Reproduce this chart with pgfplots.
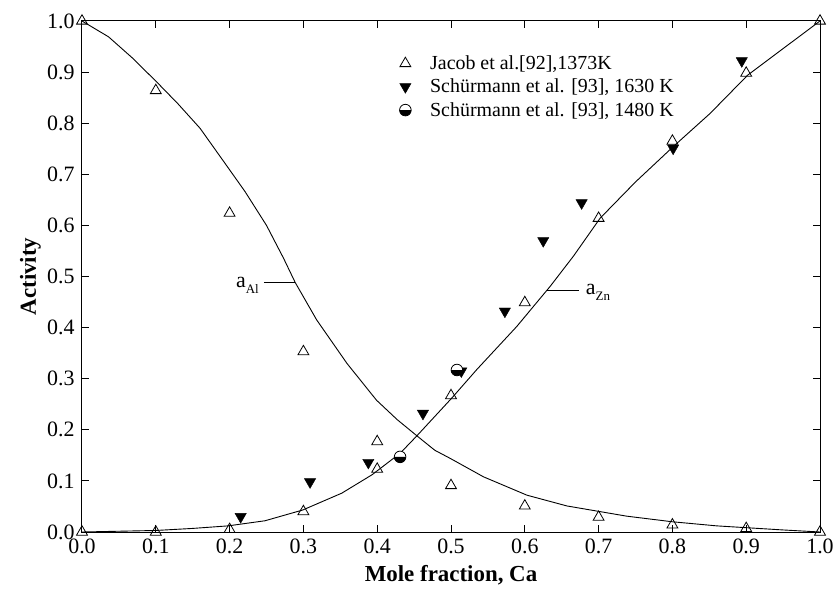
\documentclass[border=0pt]{standalone}
\usepackage{fontspec}
\setmainfont{Liberation Serif}
\usepackage{pgfplots}
\pgfplotsset{compat=1.18}
\begin{document}
\begin{tikzpicture}
\begin{axis}[
  scale only axis, width=738bp, height=511bp,
  xmin=0, xmax=1, ymin=0, ymax=1,
  xtick={0,0.1,0.2,0.3,0.4,0.5,0.6,0.7,0.8,0.9,1.0},
  ytick={0,0.1,0.2,0.3,0.4,0.5,0.6,0.7,0.8,0.9,1.0},
  xtick pos=both, ytick pos=both, xticklabel pos=lower, yticklabel pos=left,
  tick align=inside, major tick length=7bp,
  axis line style={line width=1bp},
  every tick/.style={black, line width=1bp},
  /pgf/number format/fixed, /pgf/number format/fixed zerofill,
  /pgf/number format/precision=1, /pgf/number format/assume math mode=true,
  tick label style={font=\fontsize{22}{26}\selectfont},
  xticklabel style={yshift=-3bp},
  yticklabel style={xshift=-4bp},
  label style={font=\fontsize{23}{27}\selectfont\bfseries},
  xlabel={Mole fraction, Ca}, ylabel={Activity},
  xlabel style={at={(axis description cs:0.5,-0.084)}, anchor=center},
  ylabel style={at={(axis description cs:-0.07,0.5)}, anchor=center},
  legend style={at={(axis description cs:0.426,0.94)}, anchor=north west,
    draw=none, fill=none, font=\fontsize{20}{24}\selectfont,
    column sep=17bp, row sep=4bp},
  legend cell align=left,
]
\coordinate (sw) at (rel axis cs:0,0);
\coordinate (ne) at (rel axis cs:1,1);
% a_Al curve
\addplot[black, line width=0.9bp, forget plot] coordinates {
(0,1.0)(0.036,0.969)(0.068,0.928)(0.101,0.881)(0.130,0.838)(0.160,0.790)(0.194,0.721)(0.221,0.666)
(0.250,0.600)(0.273,0.536)(0.289,0.488)(0.318,0.415)(0.359,0.330)(0.399,0.258)(0.427,0.220)(0.454,0.188)
(0.478,0.160)(0.499,0.144)(0.544,0.108)(0.603,0.072)(0.657,0.051)(0.738,0.031)(0.800,0.020)(0.860,0.012)
(0.950,0.004)(1.0,0.0)};
% a_Zn curve
\addplot[black, line width=0.9bp, forget plot] coordinates {
(0,0)(0.1,0.003)(0.150,0.007)(0.198,0.012)(0.248,0.022)(0.299,0.043)(0.352,0.076)(0.393,0.112)
(0.431,0.154)(0.453,0.187)(0.501,0.262)(0.535,0.318)(0.589,0.402)(0.634,0.480)(0.666,0.540)
(0.702,0.614)(0.750,0.685)(0.801,0.754)(0.851,0.819)(0.902,0.894)(0.950,0.946)(1.0,1.0)};
% Jacob
\addplot[only marks, mark=triangle, mark size=6.3bp, mark options={black, line width=0.8bp, fill=none}] coordinates {
(0,1.0)(0.1,0.864)(0.2,0.624)(0.3,0.353)(0.4,0.177)(0.5,0.091)(0.6,0.051)(0.7,0.029)(0.8,0.014)(0.9,0.007)(1.0,0.0)
(0,0.0)(0.1,0.0)(0.2,0.005)(0.3,0.040)(0.4,0.123)(0.5,0.267)(0.6,0.449)(0.7,0.614)(0.8,0.765)(0.9,0.898)(1.0,1.0)};
\addlegendentry{Jacob et al.[92],1373K}
% Schuermann 1630 K
\addplot[only marks, mark=triangle*, mark size=6.5bp, mark options={black, fill=black, rotate=180}] coordinates {
(0.215,0.030)(0.309,0.098)(0.388,0.136)(0.462,0.232)(0.514,0.315)(0.573,0.432)(0.625,0.570)(0.677,0.644)(0.801,0.751)(0.894,0.922)};
\addlegendentry{Schürmann et al. [93], 1630 K}
% Schuermann 1480 K
\addplot[only marks, mark=halfcircle*, mark size=5.8bp, mark options={draw=black, fill=white, mark color=black, line width=0.8bp}] coordinates {
(0.431,0.147)(0.508,0.317)};
\addlegendentry{Schürmann et al. [93], 1480 K}
% curve labels
\draw[line width=0.8bp] (axis cs:0.2466,0.488) -- (axis cs:0.289,0.488);
\node[anchor=base east, inner sep=0pt, xshift=-5bp, yshift=-5bp, font=\fontsize{22}{24}\selectfont]
  at (axis cs:0.2466,0.488) {a\raisebox{-6bp}{\fontsize{13}{13}\selectfont Al}};
\draw[line width=0.8bp] (axis cs:0.6297,0.4736) -- (axis cs:0.6738,0.4736);
\node[anchor=base west, inner sep=0pt, xshift=6.5bp, yshift=-5bp, font=\fontsize{22}{24}\selectfont]
  at (axis cs:0.6738,0.4736) {a\raisebox{-6bp}{\fontsize{13}{13}\selectfont Zn}};
\end{axis}
\pgfresetboundingbox
\path ([shift={(-82bp,-60bp)}]sw) rectangle ([shift={(17bp,21bp)}]ne);
\end{tikzpicture}
\end{document}
